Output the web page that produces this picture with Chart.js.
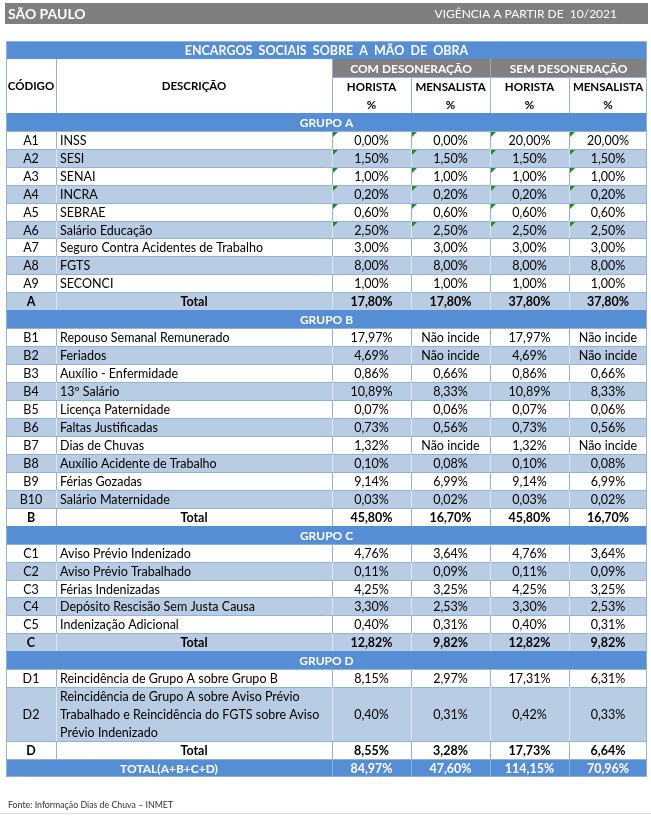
<!DOCTYPE html>
<html lang="pt-BR">
<head>
<meta charset="utf-8">
<title>Encargos Sociais - São Paulo</title>
<script src="https://cdn.jsdelivr.net/npm/chart.js@4.4.0/dist/chart.umd.min.js"></script>
<style>
  html, body { margin: 0; padding: 0; background: #fff; }
  #wrap { position: relative; width: 651px; height: 819px; }
</style>
</head>
<body>
<div id="wrap"><canvas id="encargosChart"></canvas></div>
<script>
const groupLabels = ['GRUPO A', 'GRUPO B', 'GRUPO C', 'GRUPO D'];
const codes = ['A1', 'A2', 'A3', 'A4', 'A5', 'A6', 'A7', 'A8', 'A9',
  'B1', 'B2', 'B3', 'B4', 'B5', 'B6', 'B7', 'B8', 'B9', 'B10',
  'C1', 'C2', 'C3', 'C4', 'C5',
  'D1', 'D2'];
const descriptions = ['INSS', 'SESI', 'SENAI', 'INCRA', 'SEBRAE', 'Salário Educação',
  'Seguro Contra Acidentes de Trabalho', 'FGTS', 'SECONCI',
  'Repouso Semanal Remunerado', 'Feriados', 'Auxílio - Enfermidade', '13º Salário',
  'Licença Paternidade', 'Faltas Justificadas', 'Dias de Chuvas',
  'Auxílio Acidente de Trabalho', 'Férias Gozadas', 'Salário Maternidade',
  'Aviso Prévio Indenizado', 'Aviso Prévio Trabalhado', 'Férias Indenizadas',
  'Depósito Rescisão Sem Justa Causa', 'Indenização Adicional',
  'Reincidência de Grupo A sobre Grupo B',
  'Reincidência de Grupo A sobre Aviso Prévio\nTrabalhado e Reincidência do FGTS sobre Aviso\nPrévio Indenizado'];
// null = "Não incide"
const horistaCom = [0.00, 1.50, 1.00, 0.20, 0.60, 2.50, 3.00, 8.00, 1.00,
  17.97, 4.69, 0.86, 10.89, 0.07, 0.73, 1.32, 0.10, 9.14, 0.03,
  4.76, 0.11, 4.25, 3.30, 0.40,
  8.15, 0.40];
const mensalistaCom = [0.00, 1.50, 1.00, 0.20, 0.60, 2.50, 3.00, 8.00, 1.00,
  null, null, 0.66, 8.33, 0.06, 0.56, null, 0.08, 6.99, 0.02,
  3.64, 0.09, 3.25, 2.53, 0.31,
  2.97, 0.31];
const horistaSem = [20.00, 1.50, 1.00, 0.20, 0.60, 2.50, 3.00, 8.00, 1.00,
  17.97, 4.69, 0.86, 10.89, 0.07, 0.73, 1.32, 0.10, 9.14, 0.03,
  4.76, 0.11, 4.25, 3.30, 0.40,
  17.31, 0.42];
const mensalistaSem = [20.00, 1.50, 1.00, 0.20, 0.60, 2.50, 3.00, 8.00, 1.00,
  null, null, 0.66, 8.33, 0.06, 0.56, null, 0.08, 6.99, 0.02,
  3.64, 0.09, 3.25, 2.53, 0.31,
  6.31, 0.33];
const totalCodes = ['A', 'B', 'C', 'D'];
const totalHoristaCom = [17.80, 45.80, 12.82, 8.55];
const totalMensalistaCom = [17.80, 16.70, 9.82, 3.28];
const totalHoristaSem = [37.80, 45.80, 12.82, 17.73];
const totalMensalistaSem = [37.80, 16.70, 9.82, 6.64];
const grandTotal = [84.97, 47.60, 114.15, 70.96];
const flaggedCodes = ['A1', 'A2', 'A3', 'A4', 'A5', 'A6'];

const titleText = 'ENCARGOS  SOCIAIS  SOBRE  A  MÃO  DE  OBRA';
const regimeTitles = ['COM DESONERAÇÃO', 'SEM DESONERAÇÃO'];
const payTitles = ['HORISTA', 'MENSALISTA'];

// layout
const FONT = 'Lato, "Open Sans", sans-serif';
const BLUE = '#558ED5';
const STRIPE = '#B8CCE4';
const LINE = '#95B3D7';
const GRAY = '#808080';
const colEdges = [0, 50, 326, 405, 484, 563, 641];

function fmt(v) {
  if (v === null) return 'Não incide';
  return v.toFixed(2).replace('.', ',') + '%';
}

// monta as linhas da tabela em unidades de linha (eixo y)
const rows = [];
let cursor = 4;
groupLabels.forEach((label, g) => {
  rows.push({ type: 'group', label: label, y0: cursor, y1: cursor + 1 });
  cursor += 1;
  let k = 0;
  codes.forEach((code, i) => {
    if (code[0] !== totalCodes[g]) return;
    const span = descriptions[i].split('\n').length;
    rows.push({
      type: 'item', code: code, desc: descriptions[i], stripe: k % 2 === 1,
      values: [horistaCom[i], mensalistaCom[i], horistaSem[i], mensalistaSem[i]],
      flag: flaggedCodes.includes(code), y0: cursor, y1: cursor + span
    });
    cursor += span;
    k++;
  });
  rows.push({
    type: 'total', code: totalCodes[g], stripe: k % 2 === 1,
    values: [totalHoristaCom[g], totalMensalistaCom[g], totalHoristaSem[g], totalMensalistaSem[g]],
    y0: cursor, y1: cursor + 1
  });
  cursor += 1;
});
rows.push({ type: 'grand', values: grandTotal, y0: cursor, y1: cursor + 1 });
cursor += 1;
const totalUnits = cursor;

const tablePlugin = {
  id: 'encargosTable',
  beforeDraw(chart) {
    const c = chart.ctx;
    c.save();
    c.fillStyle = '#fff';
    c.fillRect(0, 0, chart.width, chart.height);
    c.restore();
  },
  afterDraw(chart) {
    const c = chart.ctx;
    const xs = chart.scales.x, ys = chart.scales.y;
    const X = v => Math.round(xs.getPixelForValue(v));
    const Y = v => Math.round(ys.getPixelForValue(v));
    const CX = i => X(colEdges[i]);

    function fill(c0, c1, r0, r1, color) {
      c.fillStyle = color;
      c.fillRect(CX(c0), Y(r0), CX(c1) - CX(c0), Y(r1) - Y(r0));
    }
    function hline(c0, c1, r, color) {
      c.strokeStyle = color;
      c.beginPath();
      c.moveTo(CX(c0), Y(r) + 0.5);
      c.lineTo(CX(c1), Y(r) + 0.5);
      c.stroke();
    }
    function vline(ci, r0, r1, color) {
      c.strokeStyle = color;
      c.beginPath();
      c.moveTo(CX(ci) + 0.5, Y(r0));
      c.lineTo(CX(ci) + 0.5, Y(r1));
      c.stroke();
    }
    function text(str, x, y, opts) {
      c.font = (opts.bold ? 'bold ' : '') + (opts.size || 12.5) + 'px ' + FONT;
      c.fillStyle = opts.color || '#000';
      c.textAlign = opts.align || 'center';
      c.textBaseline = 'middle';
      c.fillText(str, x, y);
    }
    const midX = (c0, c1) => (CX(c0) + CX(c1)) / 2;
    const midY = (r0, r1) => (Y(r0) + Y(r1)) / 2;

    c.save();
    c.lineWidth = 1;

    // barra superior
    c.fillStyle = '#7F7F7F';
    c.fillRect(5, 3, 643, 21);
    text('SÃO PAULO', 8, 14, { bold: true, size: 14, color: '#fff', align: 'left' });
    text('VIGÊNCIA A PARTIR DE  10/2021', 617, 14, { size: 12, color: '#fff', align: 'right' });

    // titulo
    fill(0, 6, 0, 1, BLUE);
    text(titleText, midX(0, 6), midY(0, 1) + 1, { bold: true, size: 12.5, color: '#fff' });

    // cabecalho
    fill(0, 6, 1, 4, '#fff');
    fill(2, 6, 1, 2, GRAY);
    text('CÓDIGO', midX(0, 1), midY(1, 4), { bold: true, size: 11.5 });
    text('DESCRIÇÃO', midX(1, 2), midY(1, 4), { bold: true, size: 11.5 });
    regimeTitles.forEach((t, i) => {
      text(t, midX(2 + i * 2, 4 + i * 2), midY(1, 2) + 1, { bold: true, size: 12, color: '#fff' });
    });
    for (let i = 0; i < 4; i++) {
      text(payTitles[i % 2], midX(2 + i, 3 + i), midY(2, 3) + 1, { bold: true, size: 11.5 });
      text('%', midX(2 + i, 3 + i), midY(3, 4) + 1, { bold: true, size: 11.5 });
    }
    hline(2, 6, 2, LINE);
    vline(1, 1, 4, LINE);
    vline(2, 1, 4, LINE);
    vline(3, 2, 4, LINE);
    vline(4, 1, 4, '#A6A6A6');
    vline(4, 2, 4, LINE);
    vline(5, 2, 4, LINE);

    // corpo
    rows.forEach(r => {
      if (r.type === 'group') {
        fill(0, 6, r.y0, r.y1, BLUE);
        text(r.label, midX(0, 6), midY(r.y0, r.y1) + 1, { bold: true, size: 12, color: '#fff' });
        return;
      }
      const bg = r.type === 'grand' ? BLUE : (r.stripe ? STRIPE : '#fff');
      fill(0, 6, r.y0, r.y1, bg);
      hline(0, 6, r.y0, LINE);
      const vcol = r.type === 'grand' ? '#8DB4E2' : (r.stripe ? '#DCE6F1' : LINE);
      for (let ci = 1; ci <= 5; ci++) {
        if (r.type === 'grand' && ci === 1) continue;
        vline(ci, r.y0, r.y1, vcol);
      }
      const cy = midY(r.y0, r.y1) + 1;
      const bold = r.type !== 'item';
      const color = r.type === 'grand' ? '#fff' : '#000';
      if (r.type === 'item') {
        text(r.code, midX(0, 1), cy, {});
        const lines = r.desc.split('\n');
        lines.forEach((ln, li) => {
          text(ln, CX(1) + 4, midY(r.y0 + li, r.y0 + li + 1) + 1, { align: 'left' });
        });
      } else if (r.type === 'total') {
        text(r.code, midX(0, 1), cy, { bold: true, size: 12.5 });
        text('Total', midX(1, 2), cy, { bold: true, size: 12.5 });
      } else {
        text('TOTAL(A+B+C+D)', midX(0, 2), cy, { bold: true, size: 12, color: '#fff' });
      }
      r.values.forEach((v, i) => {
        text(fmt(v), midX(2 + i, 3 + i), cy, { bold: bold, size: 12.5, color: color });
        if (r.flag) {
          const x0 = CX(2 + i) + 1, y0 = Y(r.y0) + 1;
          c.fillStyle = '#1E8C1E';
          c.beginPath();
          c.moveTo(x0, y0);
          c.lineTo(x0 + 5, y0);
          c.lineTo(x0, y0 + 5);
          c.closePath();
          c.fill();
        }
      });
    });

    // bordas externas
    c.strokeStyle = LINE;
    c.strokeRect(CX(0) + 0.5, Y(0) + 0.5, CX(6) - CX(0) - 1, Y(totalUnits) - Y(0) - 1);

    // rodape
    text('Fonte: Informação Dias de Chuva – INMET', 8, 805, { size: 8.8, color: '#333', align: 'left' });
    c.strokeStyle = '#DDDDDD';
    c.beginPath();
    c.moveTo(0, 813.5);
    c.lineTo(651, 813.5);
    c.stroke();
    c.restore();
  }
};

const ctx = document.getElementById('encargosChart');
new Chart(ctx, {
  type: 'scatter',
  data: { datasets: [] },
  options: {
    responsive: true,
    maintainAspectRatio: false,
    animation: false,
    layout: { padding: { left: 6, right: 4, top: 41, bottom: 42 } },
    scales: {
      x: { type: 'linear', min: colEdges[0], max: colEdges[colEdges.length - 1], display: false },
      y: { type: 'linear', min: 0, max: totalUnits, reverse: true, display: false }
    },
    plugins: { legend: { display: false }, tooltip: { enabled: false } }
  },
  plugins: [tablePlugin]
});
</script>
</body>
</html>
